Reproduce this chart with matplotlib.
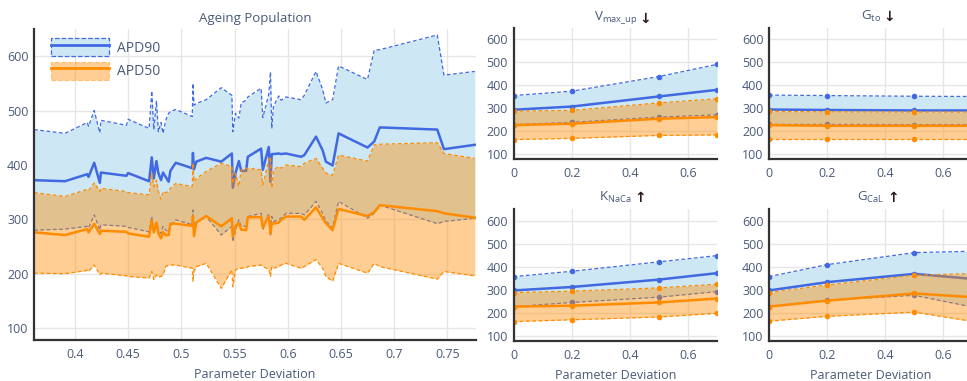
import matplotlib
matplotlib.use("Agg")
import matplotlib.pyplot as plt
from matplotlib.patches import Patch
from matplotlib.lines import Line2D
from matplotlib.legend_handler import HandlerTuple

# ageing population (main panel)
dev = [0.3616, 0.3906, 0.4116, 0.4128, 0.4181, 0.4234, 0.4244, 0.4484, 0.4500, 0.4697,
       0.4722, 0.4741, 0.4766, 0.4784, 0.4809, 0.4828, 0.4853, 0.4881, 0.4897, 0.4947,
       0.5103, 0.5109, 0.5119, 0.5141, 0.5234, 0.5375, 0.5475, 0.5484, 0.5509, 0.5541,
       0.5563, 0.5609, 0.5625, 0.5750, 0.5766, 0.5822, 0.5838, 0.5850, 0.5866, 0.5916,
       0.5938, 0.5984, 0.6125, 0.6156, 0.6266, 0.6328, 0.6359, 0.6422, 0.6478, 0.6750,
       0.6813, 0.6866, 0.7406, 0.7469, 0.7759]
apd90_mean = [372, 370, 383, 378, 404, 367, 386, 380, 385, 370,
              414, 375, 407, 385, 372, 386, 378, 369, 389, 404,
              394, 422, 392, 406, 413, 406, 421, 358, 385, 407,
              389, 389, 415, 430, 391, 433, 369, 420, 420, 421,
              420, 421, 415, 418, 452, 427, 406, 399, 458, 432,
              443, 469, 465, 429, 437]
apd90_hi = [465, 458, 478, 471, 500, 459, 482, 473, 484, 467,
            536, 465, 518, 461, 478, 458, 482, 495, 498, 502,
            489, 550, 510, 513, 520, 542, 528, 461, 495, 486,
            514, 519, 525, 541, 487, 530, 571, 467, 508, 527,
            519, 525, 520, 528, 572, 539, 514, 520, 582, 557,
            611, 612, 639, 565, 572]
apd90_lo = [280, 282, 287, 284, 308, 280, 290, 287, 285, 277,
            305, 280, 294, 280, 274, 287, 280, 277, 287, 299,
            290, 317, 287, 296, 305, 271, 287, 259, 280, 299,
            287, 287, 305, 311, 280, 311, 271, 305, 296, 299,
            302, 311, 311, 308, 333, 311, 296, 284, 333, 302,
            311, 326, 292, 296, 302]
apd50_mean = [276, 271, 282, 276, 292, 273, 279, 277, 274, 268,
              298, 276, 294, 274, 265, 277, 271, 271, 292, 292,
              288, 306, 269, 294, 306, 287, 302, 268, 287, 293,
              281, 280, 304, 304, 285, 306, 274, 293, 292, 294,
              299, 305, 305, 299, 322, 302, 293, 280, 319, 306,
              313, 326, 315, 311, 303]
apd50_hi = [349, 342, 355, 353, 367, 351, 357, 351, 349, 345,
            385, 360, 372, 351, 337, 351, 349, 351, 357, 366,
            360, 403, 369, 375, 388, 403, 397, 366, 385, 360,
            391, 394, 394, 391, 363, 409, 415, 357, 391, 397,
            394, 400, 397, 403, 412, 394, 385, 381, 418, 407,
            437, 438, 441, 421, 412]
apd50_lo = [201, 200, 206, 204, 216, 198, 201, 196, 195, 192,
            204, 189, 198, 194, 195, 198, 213, 216, 216, 216,
            210, 186, 204, 213, 219, 173, 207, 176, 207, 210,
            210, 211, 213, 216, 213, 208, 195, 213, 210, 213,
            216, 219, 210, 213, 226, 210, 195, 186, 219, 201,
            219, 213, 190, 204, 196]

# single-parameter sweeps
sweep_x = [0, 0.2, 0.5, 0.7]
panels = {
    "V$_{\\mathrm{max\\_up}}$": dict(
        arrow="↓",
        apd90=[293, 307, 351, 380], apd90_hi=[355, 374, 438, 491], apd90_lo=[228, 238, 261, 271],
        apd50=[226, 232, 254, 261], apd50_hi=[287, 290, 323, 341], apd50_lo=[163, 168, 181, 183]),
    "G$_{\\mathrm{to}}$": dict(
        arrow="↓",
        apd90=[294, 292, 290, 290], apd90_hi=[357, 355, 352, 351], apd90_lo=[229, 229, 228, 228],
        apd50=[226, 223, 223, 223], apd50_hi=[286, 284, 283, 283], apd50_lo=[164, 164, 164, 164]),
    "K$_{\\mathrm{NaCa}}$": dict(
        arrow="↑",
        apd90=[297, 312, 344, 372], apd90_hi=[357, 380, 421, 448], apd90_lo=[227, 245, 268, 292],
        apd50=[227, 231, 245, 262], apd50_hi=[288, 294, 308, 324], apd50_lo=[162, 170, 182, 198]),
    "G$_{\\mathrm{CaL}}$": dict(
        arrow="↑",
        apd90=[297, 333, 369, 347], apd90_hi=[357, 409, 461, 467], apd90_lo=[227, 255, 276, 225],
        apd50=[227, 253, 284, 268], apd50_hi=[288, 321, 363, 370], apd50_lo=[164, 185, 203, 163]),
}

blue = "#4169e1"
orange = "#ff8c00"
blue_fill = "#cde8f4"
txt = "#4a5a78"

plt.rcParams["font.family"] = ["Open Sans", "DejaVu Sans"]
plt.rcParams["mathtext.fontset"] = "custom"
plt.rcParams["mathtext.rm"] = "Open Sans"
plt.rcParams["mathtext.it"] = "Open Sans"

fig = plt.figure(figsize=(9.67, 3.81), dpi=100)
W, H = 967, 381


def make_ax(left, top, right, bottom):
    return fig.add_axes([left / W, (H - bottom) / H, (right - left) / W, (bottom - top) / H])


def style(ax, xlim, xticks, xlabels):
    ax.set_xlim(*xlim)
    ax.set_ylim(78, 650)
    ax.set_xticks(xticks)
    ax.set_xticklabels(xlabels)
    ax.set_yticks([100, 200, 300, 400, 500, 600])
    ax.grid(True, color="#e6e6e6", lw=1)
    ax.set_axisbelow(True)
    for s in ["top", "right"]:
        ax.spines[s].set_visible(False)
    for s in ["left", "bottom"]:
        ax.spines[s].set_color("#333333")
        ax.spines[s].set_linewidth(1.6)
        ax.spines[s].set_zorder(10)
    ax.tick_params(length=0, labelsize=9, colors=txt, pad=4)
    ax.tick_params(axis="x", pad=6)


def draw_bands(ax, x, m90, hi90, lo90, m50, hi50, lo50, marker=None):
    ms = 3
    ax.fill_between(x, lo90, hi90, color=blue_fill, lw=0, zorder=1)
    ax.plot(x, hi90, color=blue, lw=0.9, ls=(0, (3, 2)), marker=marker, ms=ms, zorder=2)
    ax.plot(x, lo90, color=blue, lw=0.9, ls=(0, (3, 2)), marker=marker, ms=ms, zorder=2)
    ax.plot(x, m90, color=blue, lw=1.8, marker=marker, ms=ms, zorder=3)
    ax.fill_between(x, lo50, hi50, color=orange, alpha=0.42, lw=0, zorder=4)
    ax.plot(x, hi50, color=orange, lw=0.9, ls=(0, (3, 2)), marker=marker, ms=ms, zorder=5)
    ax.plot(x, lo50, color=orange, lw=0.9, ls=(0, (3, 2)), marker=marker, ms=ms, zorder=5)
    ax.plot(x, m50, color=orange, lw=1.8, marker=marker, ms=ms, zorder=6)


# main panel
ax = make_ax(34, 29, 476, 340)
draw_bands(ax, dev, apd90_mean, apd90_hi, apd90_lo, apd50_mean, apd50_hi, apd50_lo)
main_ticks = [0.4, 0.45, 0.5, 0.55, 0.6, 0.65, 0.7, 0.75]
style(ax, (0.3615, 0.777), main_ticks, ["0.4", "0.45", "0.5", "0.55", "0.6", "0.65", "0.7", "0.75"])
ax.set_title("Ageing Population", fontsize=9.5, color=txt, pad=5)
ax.set_xlabel("Parameter Deviation", fontsize=9, color=txt, labelpad=5)

h90 = (Patch(facecolor=blue_fill, edgecolor=blue, ls="--", lw=0.9),
       Line2D([], [], color=blue, lw=2))
h50 = (Patch(facecolor=orange, alpha=0.42, edgecolor=orange, ls="--", lw=0.9),
       Line2D([], [], color=orange, lw=2))
leg = ax.legend([h90, h50], ["APD90", "APD50"], handler_map={tuple: HandlerTuple(ndivide=1, pad=0)},
                loc="upper left", bbox_to_anchor=(0.038, 0.97), frameon=False, borderpad=0,
                borderaxespad=0, handlelength=4.2, handleheight=1.6, handletextpad=0.6,
                labelspacing=0.4, fontsize=10)
for t in leg.get_texts():
    t.set_color(txt)

# small panels
boxes = [(513.5, 28, 717, 159), (769, 28, 972.5, 159),
         (513.5, 209, 717, 341), (769, 209, 972.5, 341)]
small_ticks = [0, 0.2, 0.4, 0.6]
for i, ((name, d), box) in enumerate(zip(panels.items(), boxes)):
    a = make_ax(*box)
    draw_bands(a, sweep_x, d["apd90"], d["apd90_hi"], d["apd90_lo"],
               d["apd50"], d["apd50_hi"], d["apd50_lo"], marker="o")
    style(a, (0, 0.7), small_ticks, ["0", "0.2", "0.4", "0.6"])
    ttl = a.set_title(name, fontsize=9.5, color=txt, pad=6)
    a.annotate(d["arrow"], xy=(1, 0), xycoords=ttl, xytext=(2, 0), textcoords="offset points",
               fontsize=10, color="#2b1a1a", fontweight="bold", va="bottom", ha="left",
               family=["DejaVu Sans"])
    if i >= 2:
        a.set_xlabel("Parameter Deviation", fontsize=9, color=txt, labelpad=5)

fig.savefig("out.png", dpi=100)
